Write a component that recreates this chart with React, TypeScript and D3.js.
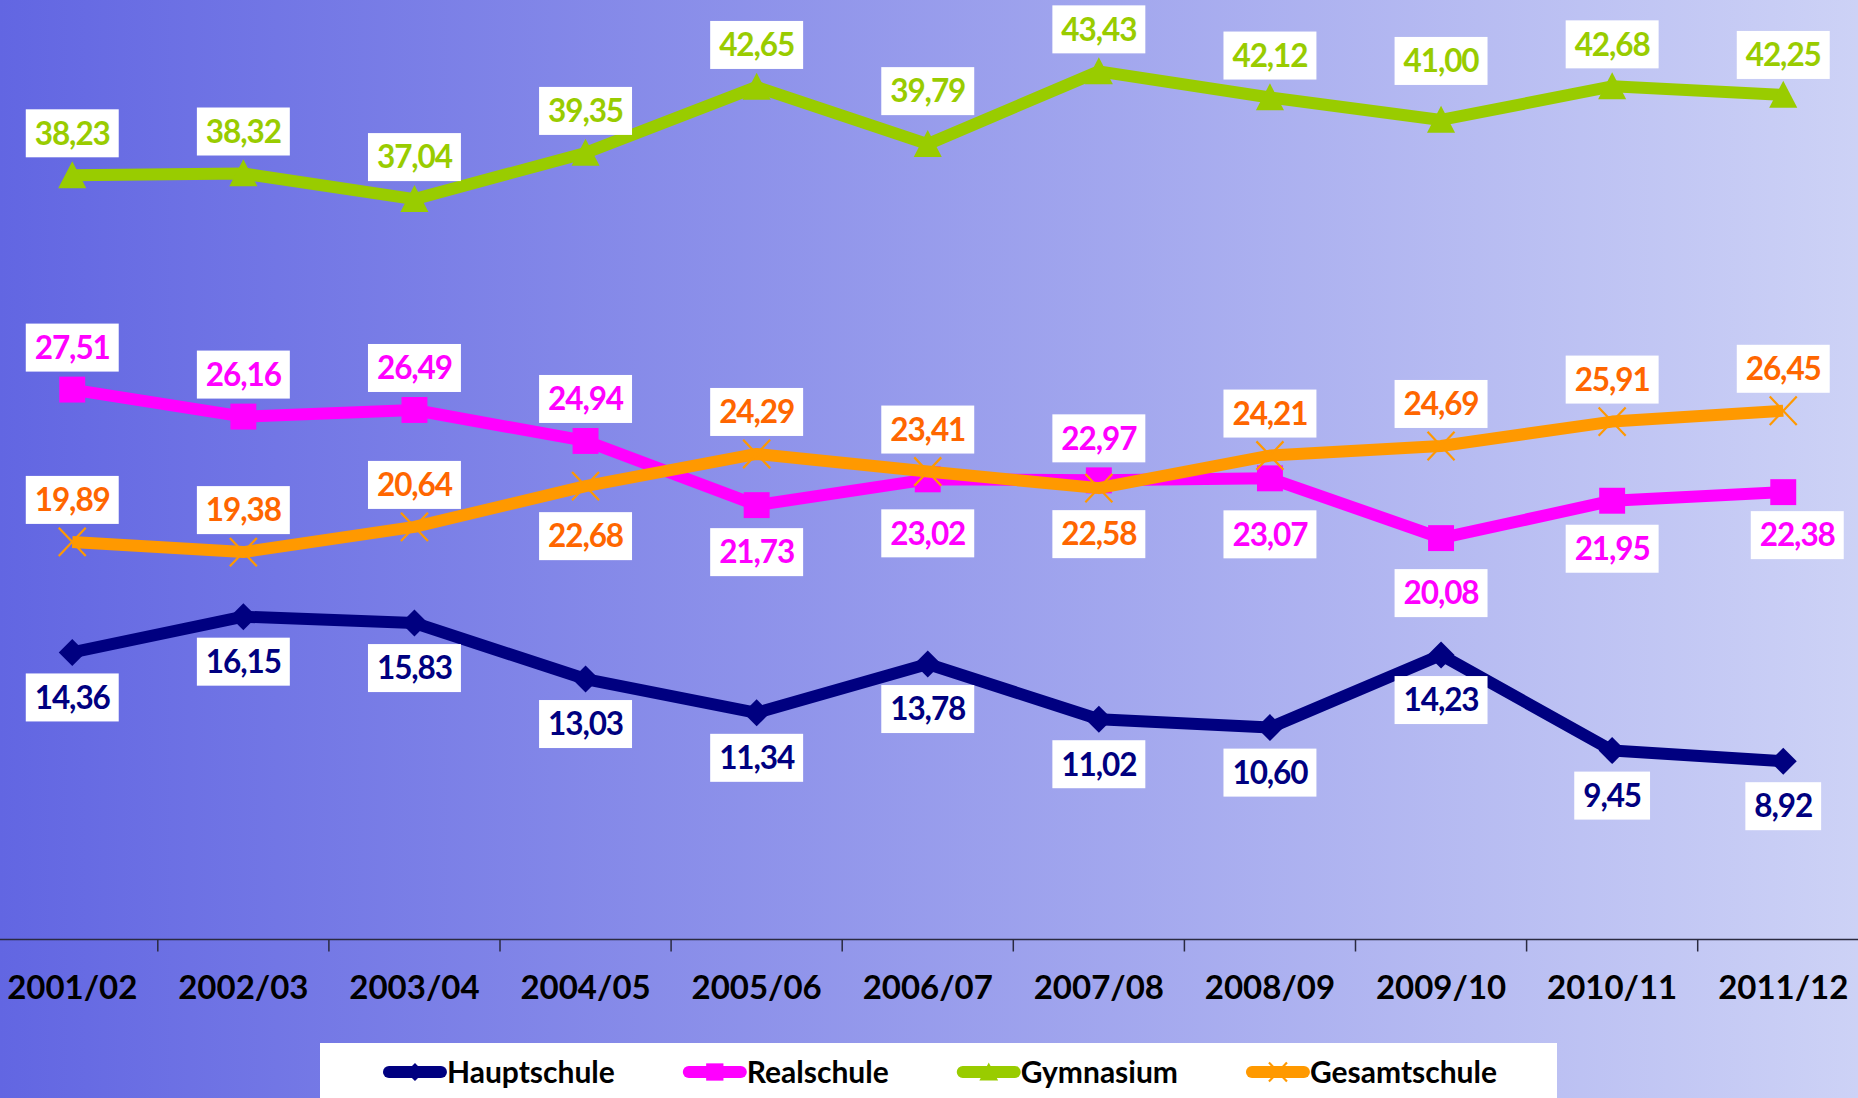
import React, { useEffect, useRef } from 'react';
import * as d3 from 'd3';

// ---------- data ----------
const categories = ['2001/02', '2002/03', '2003/04', '2004/05', '2005/06', '2006/07', '2007/08', '2008/09', '2009/10', '2010/11', '2011/12'];
const seriesNames = ['Hauptschule', 'Realschule', 'Gymnasium', 'Gesamtschule'];
const hauptschule = [14.36, 16.15, 15.83, 13.03, 11.34, 13.78, 11.02, 10.6, 14.23, 9.45, 8.92];
const realschule = [27.51, 26.16, 26.49, 24.94, 21.73, 23.02, 22.97, 23.07, 20.08, 21.95, 22.38];
const gymnasium = [38.23, 38.32, 37.04, 39.35, 42.65, 39.79, 43.43, 42.12, 41.0, 42.68, 42.25];
const gesamtschule = [19.89, 19.38, 20.64, 22.68, 24.29, 23.41, 22.58, 24.21, 24.69, 25.91, 26.45];
const yDomain = [0, 47];

// ---------- layout (label placement relative to the point) ----------
const U = -42; // above
const D = 45; // below
const labelDyHaupt = [D, D, D, D, D, D, D, D, D, D, D];
const labelDyReal = [U, U, U, U, 47, 54, U, 56, 55, 48, 43];
const labelDyGym = [U, U, U, U, U, -53, U, U, -59, U, -40];
const labelDyGes = [U, U, U, 50, U, U, 46, U, U, U, U];
const labelDxReal = [0, 0, 0, 0, 0, 0, 0, 0, 0, 0, 14];
const zeros = [0, 0, 0, 0, 0, 0, 0, 0, 0, 0, 0];

const W = 1858;
const H = 1098;
const FONT = "Lato, 'Open Sans', 'DejaVu Sans', sans-serif";

type Shape = 'diamond' | 'square' | 'triangle' | 'x';

const seriesDefs = [
  { name: seriesNames[0], values: hauptschule, line: '#000080', text: '#000080', shape: 'diamond' as Shape, dy: labelDyHaupt, dx: zeros },
  { name: seriesNames[1], values: realschule, line: '#FF00FF', text: '#FF00FF', shape: 'square' as Shape, dy: labelDyReal, dx: labelDxReal },
  { name: seriesNames[2], values: gymnasium, line: '#99CC00', text: '#99CC00', shape: 'triangle' as Shape, dy: labelDyGym, dx: zeros },
  { name: seriesNames[3], values: gesamtschule, line: '#FF9900', text: '#FF6600', shape: 'x' as Shape, dy: labelDyGes, dx: zeros },
];

function drawMarker(g: any, shape: Shape, color: string, s: number) {
  if (shape === 'diamond') {
    g.append('path').attr('d', `M0,${-s}L${s},0L0,${s}L${-s},0Z`).attr('fill', color);
  } else if (shape === 'square') {
    const h = s * 0.96;
    g.append('rect').attr('x', -h).attr('y', -h).attr('width', 2 * h).attr('height', 2 * h).attr('fill', color);
  } else if (shape === 'triangle') {
    g.append('path').attr('d', `M0,${-s * 1.05}L${s * 1.04},${s * 0.95}L${-s * 1.04},${s * 0.95}Z`).attr('fill', color);
  } else {
    g.append('path')
      .attr('d', `M${-s},${-s * 1.05}L${s},${s * 1.05}M${s},${-s * 1.05}L${-s},${s * 1.05}`)
      .attr('stroke', color)
      .attr('stroke-width', 2.2)
      .attr('fill', 'none');
  }
}

export default function App() {
  const ref = useRef<SVGSVGElement | null>(null);

  useEffect(() => {
    document.body.style.margin = '0';
    const svg = d3.select(ref.current);
    svg.selectAll('*').remove();

    const defs = svg.append('defs');
    const grad = defs.append('linearGradient').attr('id', 'bg').attr('x1', '0').attr('x2', '1').attr('y1', '0').attr('y2', '0');
    grad.append('stop').attr('offset', '0').attr('stop-color', '#6266E2');
    grad.append('stop').attr('offset', '1').attr('stop-color', '#CDD2F6');
    svg.append('rect').attr('width', W).attr('height', H).attr('fill', 'url(#bg)');

    const x = d3.scaleBand<string>().domain(categories).range([-13.3, 1868.8]).padding(0);
    const cx = (c: string) => (x(c) as number) + x.bandwidth() / 2;
    const y = d3.scaleLinear().domain(yDomain).range([939.5, 0]);

    // axis
    const axisY = y(0);
    svg.append('line').attr('x1', 0).attr('x2', W).attr('y1', axisY).attr('y2', axisY).attr('stroke', '#2a2a40').attr('stroke-width', 1.5);
    categories.slice(1).forEach((c) => {
      const tx = x(c) as number;
      svg.append('line').attr('x1', tx).attr('x2', tx).attr('y1', axisY).attr('y2', axisY + 12).attr('stroke', '#2a2a40').attr('stroke-width', 1.5);
    });
    categories.forEach((c) => {
      svg.append('text').attr('x', cx(c)).attr('y', 999).attr('text-anchor', 'middle')
        .attr('font-family', FONT).attr('font-weight', 700).attr('font-size', 33).attr('fill', '#000')
        .text(c);
    });

    // lines and markers
    const lineGen = d3.line<number>().x((_, i) => cx(categories[i])).y((v) => y(v));
    seriesDefs.forEach((s) => {
      svg.append('path').attr('d', lineGen(s.values) as string).attr('fill', 'none')
        .attr('stroke', s.line).attr('stroke-width', 12).attr('stroke-linejoin', 'round');
      s.values.forEach((v, i) => {
        const g = svg.append('g').attr('transform', `translate(${cx(categories[i])},${y(v)})`);
        drawMarker(g, s.shape, s.line, 13.5);
      });
    });

    // labels
    seriesDefs.forEach((s) => {
      s.values.forEach((v, i) => {
        const lx = cx(categories[i]) + s.dx[i];
        const ly = y(v) + s.dy[i];
        const g = svg.append('g');
        const rect = g.append('rect').attr('fill', '#fff');
        const t = g.append('text').attr('x', lx).attr('y', ly + 11.3).attr('text-anchor', 'middle')
          .attr('font-family', FONT).attr('font-weight', 700).attr('font-size', 31.5)
          .attr('letter-spacing', -1.1).attr('fill', s.text)
          .text(v.toFixed(2).replace('.', ','));
        const w = (t.node() as SVGTextElement).getComputedTextLength();
        rect.attr('x', lx - w / 2 - 9).attr('y', ly - 24).attr('width', w + 18).attr('height', 48);
      });
    });

    // legend
    svg.append('rect').attr('x', 320).attr('y', 1043).attr('width', 1237).attr('height', 60).attr('fill', '#fff');
    const symW = 64;
    const gap = 68;
    const lg = svg.append('g');
    const items: { g: any; w: number }[] = [];
    seriesDefs.forEach((s) => {
      const g = lg.append('g');
      g.append('line').attr('x1', 6).attr('x2', symW - 6).attr('y1', 0).attr('y2', 0)
        .attr('stroke', s.line).attr('stroke-width', 12).attr('stroke-linecap', 'round');
      const mg = g.append('g').attr('transform', `translate(${symW / 2},0)`);
      drawMarker(mg, s.shape, s.line, 9);
      const t = g.append('text').attr('x', symW).attr('y', 10.5).attr('font-family', FONT)
        .attr('font-weight', 700).attr('font-size', 30).attr('fill', '#000').text(s.name);
      const w = symW + (t.node() as SVGTextElement).getComputedTextLength();
      items.push({ g, w });
    });
    const total = items.reduce((a, b) => a + b.w, 0) + gap * (items.length - 1);
    let pos = 940 - total / 2;
    items.forEach((it) => {
      it.g.attr('transform', `translate(${pos},1072)`);
      pos += it.w + gap;
    });
  }, []);

  return <svg ref={ref} width={W} height={H} style={{ display: 'block' }} />;
}
